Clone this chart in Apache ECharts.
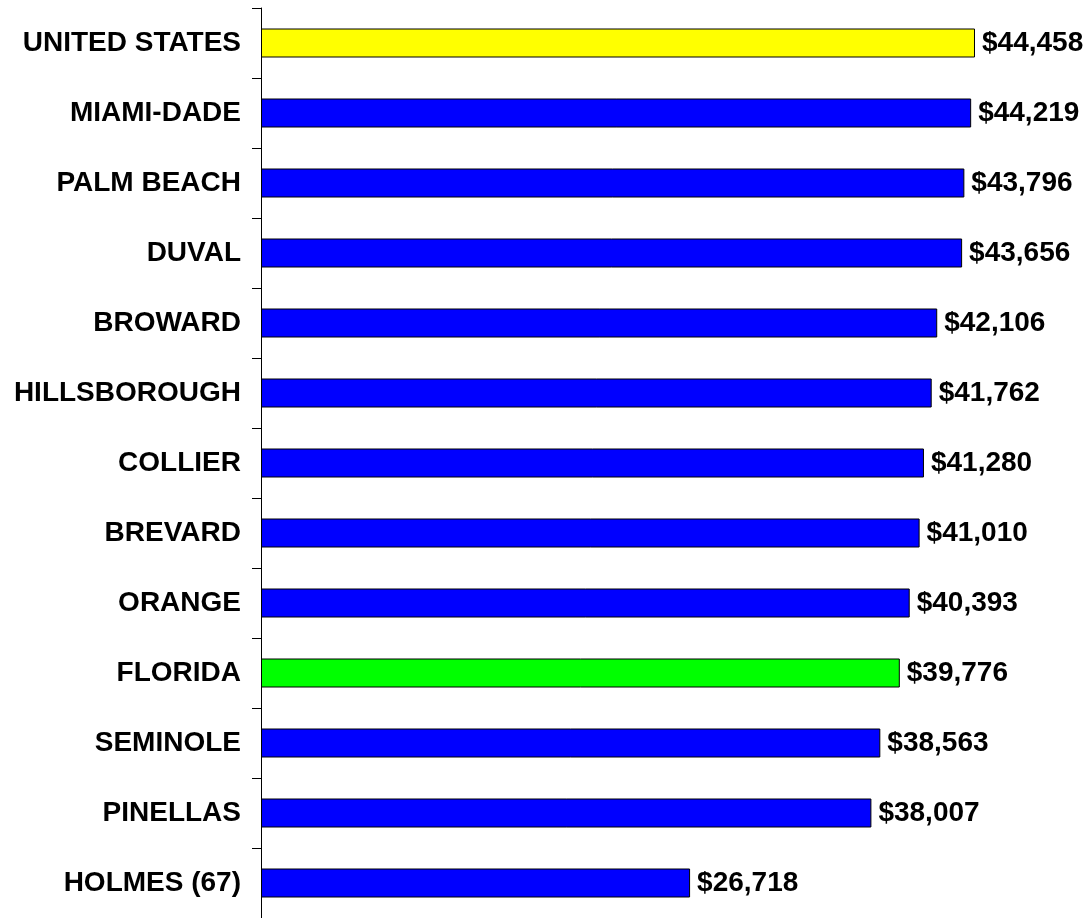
<!DOCTYPE html>
<html>
<head>
<meta charset="utf-8">
<script src="https://cdn.jsdelivr.net/npm/echarts@6/dist/echarts.min.js"></script>
<style>
  html, body { margin: 0; padding: 0; background: #fff; }
  #main { width: 1088px; height: 918px; }
</style>
</head>
<body>
<div id="main"></div>
<script>
const areas = ['UNITED STATES', 'MIAMI-DADE', 'PALM BEACH', 'DUVAL', 'BROWARD', 'HILLSBOROUGH',
    'COLLIER', 'BREVARD', 'ORANGE', 'FLORIDA', 'SEMINOLE', 'PINELLAS', 'HOLMES (67)']
const incomes = [44458, 44219, 43796, 43656, 42106, 41762, 41280, 41010, 40393, 39776, 38563, 38007, 26718]
const barColors = { 'UNITED STATES': '#ffff00', 'FLORIDA': '#00ff00' }

let chartDom = document.getElementById('main')
let myChart = echarts.init(chartDom)

const fmt = (v) => '$' + v.toLocaleString('en-US')

let option = {
    animation: false,
    grid: { left: 261, right: 24, top: 8, bottom: 0, containLabel: false },
    xAxis: {
        type: 'value',
        min: 0,
        max: 50000,
        show: false
    },
    yAxis: {
        type: 'category',
        inverse: true,
        data: areas,
        axisLine: { show: true, lineStyle: { color: '#000', width: 1 } },
        axisTick: { show: true, length: 9, lineStyle: { color: '#000' } },
        axisLabel: {
            margin: 20,
            color: '#000',
            fontFamily: 'Liberation Sans, Arial, sans-serif',
            fontWeight: 'bold',
            fontSize: 28
        }
    },
    series: [
        {
            type: 'bar',
            barWidth: 29,
            data: areas.map((a, i) => ({
                value: incomes[i],
                itemStyle: { color: barColors[a] || '#0000ff' }
            })),
            itemStyle: { borderColor: '#000', borderWidth: 1 },
            label: {
                show: true,
                position: 'right',
                distance: 7,
                color: '#000',
                fontFamily: 'Liberation Sans, Arial, sans-serif',
                fontWeight: 'bold',
                fontSize: 28,
                formatter: (p) => fmt(p.value)
            }
        }
    ]
}

option && myChart.setOption(option)
</script>
</body>
</html>
